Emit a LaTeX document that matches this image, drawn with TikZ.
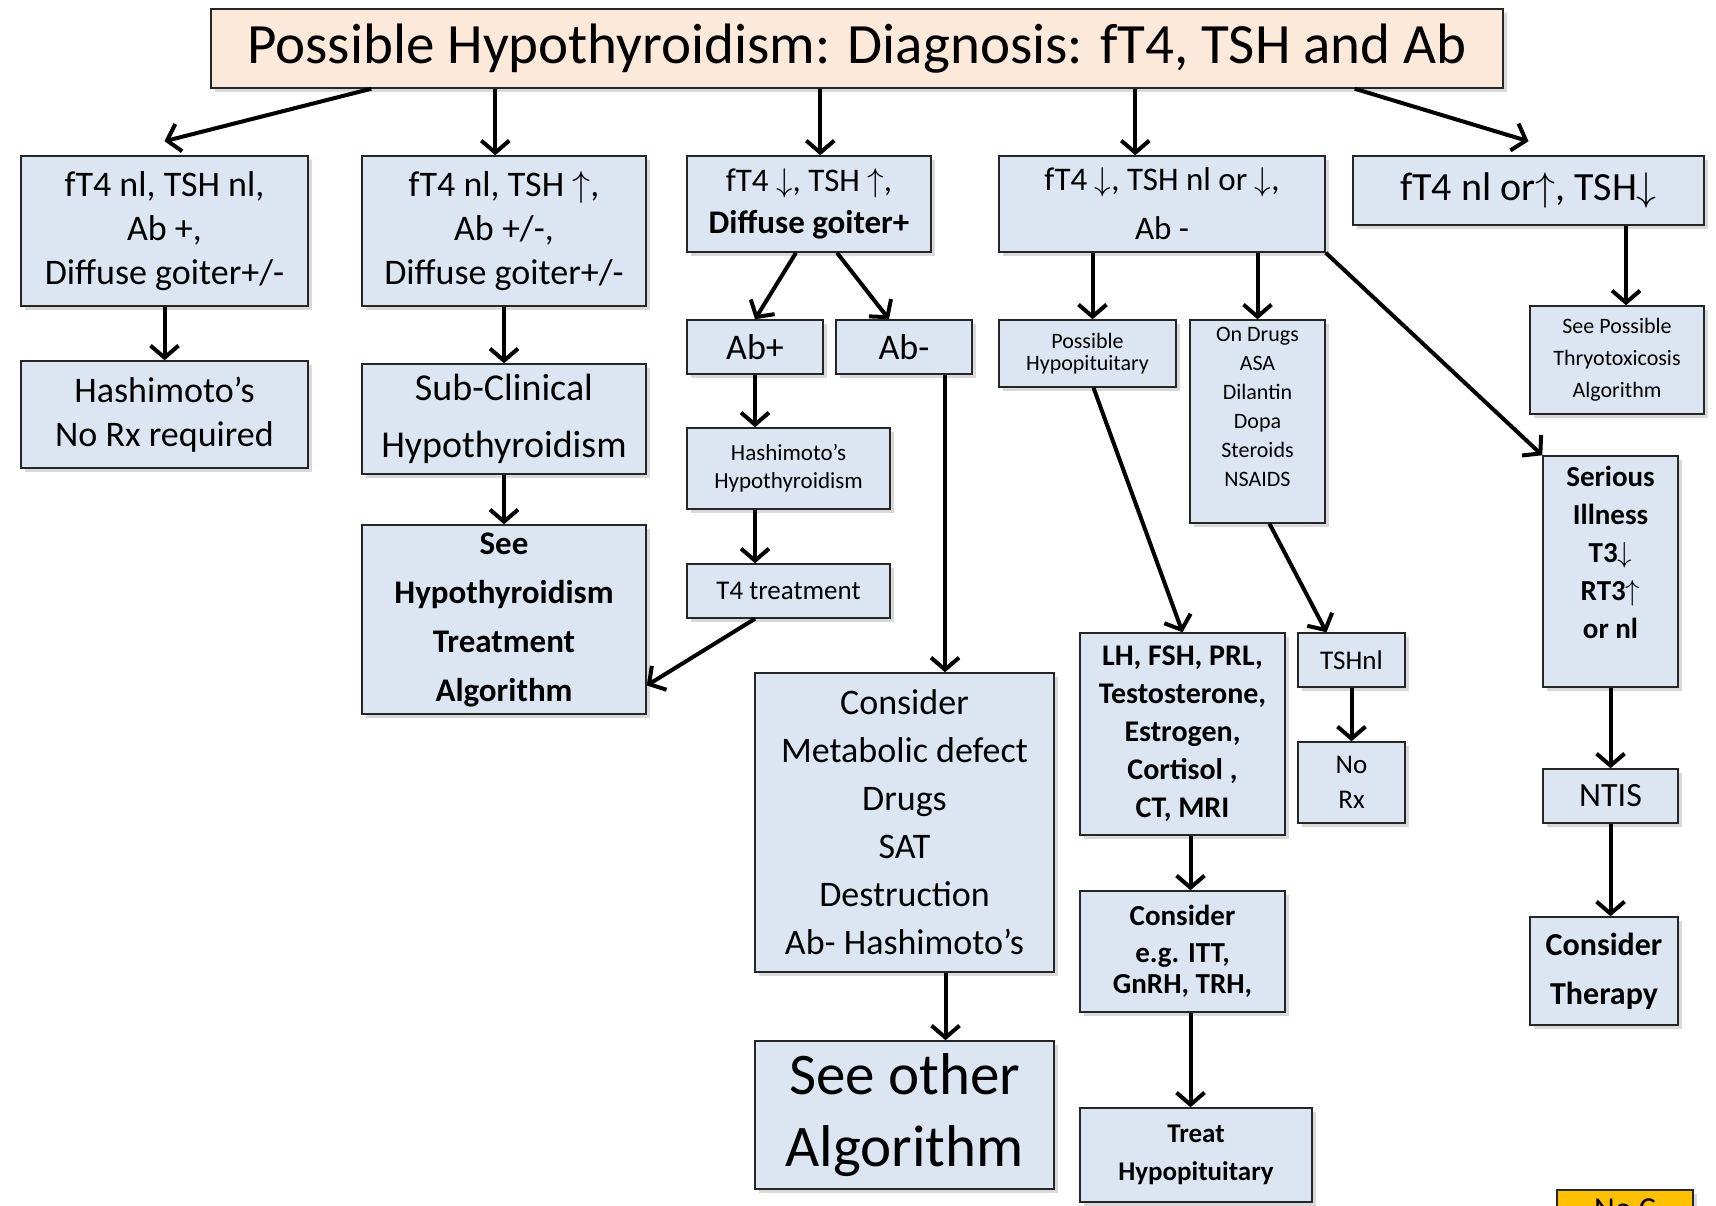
\RequirePackage{fix-cm}
\documentclass[tikz,border=0pt]{standalone}
\usepackage{fontspec}
\setmainfont{Carlito}
\usetikzlibrary{arrows.meta,shadows,calc}
\definecolor{boxblue}{RGB}{220,230,242}
\definecolor{titlepeach}{RGB}{253,233,217}
\definecolor{notegold}{RGB}{255,192,0}
\newcommand\boxfont[2]{\fontsize{#1}{#2}\selectfont}
\newcommand\arrup{\ensuremath{\uparrow}}
\newcommand\arrdn{\ensuremath{\downarrow}}

\begin{document}
\begin{tikzpicture}[
        x=1pt, y=-1pt,
        box/.style={draw=black!85, line width=1.5pt, fill=boxblue, align=center, inner sep=2pt,
            drop shadow={shadow xshift=4pt, shadow yshift=-4pt, opacity=0.3}},
        arr/.style={line width=4pt, -{Straight Barb[length=12pt, width=28pt]}},
    ]
    \useasboundingbox (0,0) rectangle (1716,1205);
    \clip (0,0) rectangle (1716,1205);

    \node[box, fill=titlepeach, minimum width=1292pt, minimum height=79pt, font=\boxfont{57}{68}] (title) at (857,48.5) {Possible Hypothyroidism: Diagnosis: fT4, TSH and Ab};

    % left branches
    \node[box, minimum width=287pt, minimum height=150pt, font=\boxfont{36}{43.6}] (nlnl) at (164.5,231) {fT4 nl, TSH nl,\\ Ab +,\\ Diffuse goiter+/-};
    \node[box, minimum width=287pt, minimum height=107pt, font=\boxfont{36}{44}] (hashnorx) at (164.5,414.5) {Hashimoto’s\\ No Rx required};
    \node[box, minimum width=284pt, minimum height=150pt, font=\boxfont{36}{43.6}] (nlup) at (504,231) {fT4 nl, TSH \arrup,\\ Ab +/-,\\ Diffuse goiter+/-};
    \node[box, minimum width=284pt, minimum height=110pt, font=\boxfont{38}{57}] (subclin) at (504,419) {Sub-Clinical\\ Hypothyroidism};
    \node[box, minimum width=284pt, minimum height=189pt, font=\bfseries\boxfont{33}{49}] (seetreat) at (504,619.5) {See\\ Hypothyroidism\\ Treatment\\ Algorithm};

    % middle branch
    \node[box, minimum width=244pt, minimum height=96pt, font=\boxfont{33}{42}] (dnup) at (809,204) {fT4 \arrdn, TSH \arrup,\\ \textbf{Diffuse goiter+}};
    \node[box, minimum width=136pt, minimum height=54pt, font=\boxfont{36}{40}] (abpos) at (755,347) {Ab+};
    \node[box, minimum width=136pt, minimum height=54pt, font=\boxfont{36}{40}] (abneg) at (904,347) {Ab-};
    \node[box, minimum width=203pt, minimum height=81pt, font=\boxfont{23}{28}] (hashhypo) at (788.5,468.5) {Hashimoto’s\\ Hypothyroidism};
    \node[box, minimum width=203pt, minimum height=54pt, font=\boxfont{27}{30}] (tfour) at (788.5,591) {T4 treatment};
    \node[box, minimum width=299pt, minimum height=299pt, font=\boxfont{36}{48}] (metab) at (904.5,822.5) {Consider\\ Metabolic defect\\ Drugs\\ SAT\\ Destruction\\ Ab- Hashimoto’s};
    \node[box, minimum width=299pt, minimum height=148pt, font=\boxfont{59}{72}] (seeother) at (904.5,1115) {See other\\ Algorithm};

    % low fT4, TSH nl or low
    \node[box, minimum width=326pt, minimum height=96pt, font=\boxfont{33}{49}] (dnnl) at (1162,204) {fT4 \arrdn, TSH nl or \arrdn,\\ Ab -};
    \node[box, minimum width=177pt, minimum height=67pt, font=\boxfont{22}{22}] (hypopit) at (1087.5,353.5) {Possible\\ Hypopituitary};
    \node[box, minimum width=135pt, minimum height=203pt, font=\boxfont{22}{29}] (drugs) at (1257.5,421.5) {On Drugs\\ ASA\\ Dilantin\\ Dopa\\ Steroids\\ NSAIDS\\ \mbox{}};
    \node[box, minimum width=205pt, minimum height=202pt, font=\bfseries\boxfont{30}{38}] (pitlabs) at (1182.5,734) {LH, FSH, PRL,\\ Testosterone,\\ Estrogen,\\ Cortisol ,\\ CT, MRI};
    \node[box, minimum width=107pt, minimum height=54pt, font=\boxfont{27}{30}] (tshnl) at (1351.5,660) {TSHnl};
    \node[box, minimum width=107pt, minimum height=81pt, font=\boxfont{27}{35}] (norx) at (1351.5,782.5) {No\\ Rx};
    \node[box, minimum width=205pt, minimum height=121pt, font=\bfseries\boxfont{29}{31}] (stimtest) at (1182.5,951.5) {Consider\\[6pt] e.g. ITT,\\ GnRH, TRH,};
    \node[box, minimum width=232pt, minimum height=94pt, font=\bfseries\boxfont{27}{38}] (treatpit) at (1196,1155) {Treat\\ Hypopituitary};

    % right branch
    \node[box, minimum width=351pt, minimum height=69pt, font=\boxfont{40}{44}] (upnldn) at (1528.5,190.5) {fT4 nl or\arrup, TSH\arrdn};
    \node[box, minimum width=174pt, minimum height=108pt, font=\boxfont{22}{32}] (seethyro) at (1617,360) {See Possible\\ Thryotoxicosis\\ Algorithm};
    \node[box, minimum width=135pt, minimum height=231pt, font=\bfseries\boxfont{29}{38}] (illness) at (1610.5,571.5) {Serious\\ Illness\\ T3\arrdn\\ RT3\arrup\\ or nl\\ \mbox{}};
    \node[box, minimum width=135pt, minimum height=54pt, font=\boxfont{34}{38}] (ntis) at (1610.5,796) {NTIS};
    \node[box, minimum width=148pt, minimum height=108pt, font=\bfseries\boxfont{32}{49}] (therapy) at (1604,971) {Consider\\ Therapy};

    % note box, cut by the page edge
    \node[box, fill=notegold, minimum width=136pt, inner ysep=9pt, anchor=north, font=\boxfont{32}{36}] (nochange) at (1625,1189) {No C};

    % from the title
    \coordinate (tA) at ([xshift=161pt]title.south west);
    \coordinate (tB) at ([xshift=285pt]title.south west);
    \coordinate (tC) at ([xshift=610pt]title.south west);
    \coordinate (tD) at ([xshift=925pt]title.south west);
    \coordinate (tE) at ([xshift=-149pt]title.south east);
    \draw[arr] (tA) -- ([yshift=14pt]nlnl.north);
    \draw[arr] (tB) -- (tB |- nlup.north);
    \draw[arr] (tC) -- (tC |- dnup.north);
    \draw[arr] (tD) -- (tD |- dnnl.north);
    \draw[arr] (tE) -- ([yshift=14pt]upnldn.north);

    \draw[arr] (nlnl) -- (hashnorx);
    \draw[arr] (nlup) -- (subclin);
    \draw[arr] (subclin) -- (seetreat);

    \draw[arr] ([xshift=-13pt]dnup.south) -- (abpos.north);
    \draw[arr] ([xshift=28pt]dnup.south) -- ([xshift=-15pt]abneg.north);
    \draw[arr] (abpos.south) -- (abpos.south |- hashhypo.north);
    \draw[arr] (hashhypo.south -| abpos) -- (tfour.north -| abpos);
    \draw[arr] (tfour.south -| abpos) -- ([yshift=-66pt]seetreat.east);
    \draw[arr] ([xshift=41pt]abneg.south) -- ([xshift=41pt]abneg.south |- metab.north);
    \draw[arr] ([xshift=41pt]metab.south) -- ([xshift=41pt]metab.south |- seeother.north);

    \draw[arr] ([xshift=5pt]hypopit.south |- dnnl.south) -- ([xshift=5pt]hypopit.north);
    \draw[arr] (dnnl.south -| drugs) -- (drugs.north);
    \draw[arr] (dnnl.south east) -- (illness.north west);
    \draw[arr] ([xshift=6pt]hypopit.south) -- (pitlabs.north);
    \draw[arr] ([xshift=12pt]drugs.south) -- ([xshift=-25pt]tshnl.north);
    \draw[arr] (tshnl) -- (norx);
    \draw[arr] ([xshift=8pt]pitlabs.south) -- ([xshift=8pt]pitlabs.south |- stimtest.north);
    \draw[arr] ([xshift=8pt]stimtest.south) -- ([xshift=8pt]stimtest.south |- treatpit.north);

    \draw[arr] ([xshift=9pt]seethyro.north |- upnldn.south) -- ([xshift=9pt]seethyro.north);
    \draw[arr] (illness) -- (ntis);
    \draw[arr] (ntis.south) -- (ntis.south |- therapy.north);
\end{tikzpicture}
\end{document}
